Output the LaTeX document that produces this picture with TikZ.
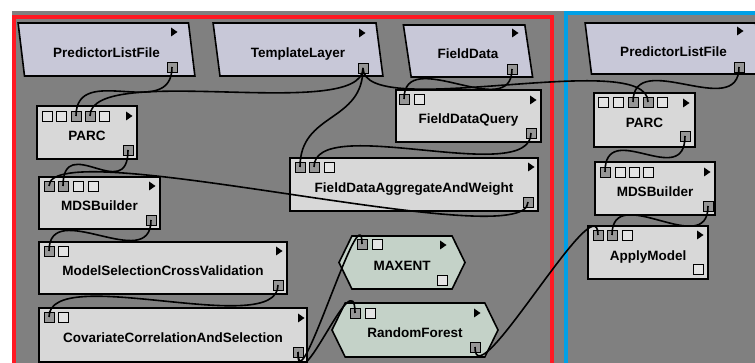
\documentclass[tikz,border=0pt]{standalone}
\usepackage{fontspec}
\setmainfont{Liberation Sans}
\usetikzlibrary{shapes.geometric,shapes.symbols}

\definecolor{canvas}{RGB}{128,128,128}
\definecolor{modgray}{RGB}{216,216,216}
\definecolor{filelav}{RGB}{200,200,216}
\definecolor{learngreen}{RGB}{196,210,200}
\definecolor{portgray}{RGB}{150,150,150}
\definecolor{portwhite}{RGB}{228,228,228}
\definecolor{grpred}{RGB}{255,25,35}
\definecolor{grpblue}{RGB}{0,160,230}

\begin{document}
\begin{tikzpicture}[x=1pt,y=-1pt,
    module/.style={draw=black,line width=1.6pt,fill=modgray,inner sep=0pt,font=\fontsize{13.5}{16}\selectfont\bfseries,text height=15.5pt,text depth=0pt,minimum height=53pt},
    datafile/.style={module,trapezium,trapezium left angle=105,trapezium right angle=75,trapezium stretches=true,fill=filelav,minimum width=177pt},
    learner/.style={module,signal,signal to=east and west,signal pointer angle=128,fill=learngreen},
    port/.style={draw=black,line width=0.8pt,fill=portwhite,minimum size=10pt,inner sep=0pt},
    used/.style={port,fill=portgray},
    every edge/.style={draw=black,line width=1.6pt,to path={.. controls +(0,55) and +(0,-55) .. (\tikztotarget)}}]
                \useasboundingbox (0,0) rectangle (755,363);
                \fill[canvas] (12,11) rectangle (755,363);
                % the two groups
                \draw[grpred,line width=4pt] (14,17) rectangle (552,390);
                \draw[grpblue,line width=4pt] (566,13) rectangle (790,390);

                % left group modules
                \node[datafile](plfL)at(106.5,49.5){PredictorListFile};
                \node[datafile,minimum width=170pt](tmpl)at(298,49.5){TemplateLayer};
                \node[datafile,minimum width=130pt,minimum height=52pt](fdat)at(468,51){FieldData};
                \node[module,minimum width=145pt,minimum height=52pt](fdq)at(468.5,116){FieldDataQuery};
                \node[module,minimum width=100pt](parcL)at(87,132.5){PARC};
                \node[module,minimum width=121pt,minimum height=52pt](mdsL)at(99.5,203){MDSBuilder};
                \node[module,minimum width=248pt,minimum height=52pt](mscv)at(163,268){ModelSelectionCrossValidation};
                \node[module,minimum width=268pt,minimum height=54pt](ccas)at(173,335){CovariateCorrelationAndSelection};
                \node[module,minimum width=248pt](fdaw)at(414,184.5){FieldDataAggregateAndWeight};
                \node[learner,minimum width=126pt](maxent)at(402,262.5){MAXENT};
                \node[learner,minimum width=166pt,minimum height=54pt](rf)at(415,330){RandomForest};

                % right group modules
                \node[datafile,minimum height=51pt](plfR)at(673.5,48.5){PredictorListFile};
                \node[module,minimum width=101pt,minimum height=54pt](parcR)at(644.5,120){PARC};
                \node[module,minimum width=120pt](mdsR)at(655,188.5){MDSBuilder};
                \node[module,minimum width=120pt](apply)at(648,252.5){ApplyModel};

                % ports
                \node[used](plfL-o)at(172,67){};
                \node[used](tmpl-o)at(363,68){};
                \node[used](fdat-o)at(512,69){};
                \node[used](fdq-i1)at(404,99){};
                \node[port](fdq-i2)at(419,99){};
                \node[used](fdq-o)at(531,133){};
                \node[port](parcL-i1)at(47,116){};
                \node[port](parcL-i2)at(61,116){};
                \node[used](parcL-i3)at(76,116){};
                \node[used](parcL-i4)at(90,116){};
                \node[port](parcL-i5)at(104,116){};
                \node[used](parcL-o)at(128,150){};
                \node[used](mdsL-i1)at(49,186){};
                \node[used](mdsL-i2)at(63,186){};
                \node[port](mdsL-i3)at(78,186){};
                \node[port](mdsL-i4)at(93,186){};
                \node[used](mdsL-o)at(151,220){};
                \node[used](mscv-i1)at(49,251){};
                \node[port](mscv-i2)at(63,251){};
                \node[used](mscv-o)at(278,285){};
                \node[used](ccas-i1)at(49,317){};
                \node[port](ccas-i2)at(63,317){};
                \node[used](ccas-o)at(298,352){};
                \node[used](fdaw-i1)at(300,167){};
                \node[used](fdaw-i2)at(314,167){};
                \node[port](fdaw-i3)at(329,167){};
                \node[used](fdaw-o)at(528,202){};
                \node[used](maxent-i1)at(362,244){};
                \node[port](maxent-i2)at(377,244){};
                \node[port](maxent-o)at(442,280){};
                \node[used](rf-i1)at(355,313){};
                \node[port](rf-i2)at(370,313){};
                \node[used](rf-o)at(475,347){};
                \node[used](plfR-o)at(739,67){};
                \node[port](parcR-i1)at(603,102){};
                \node[port](parcR-i2)at(618,102){};
                \node[used](parcR-i3)at(633,102){};
                \node[used](parcR-i4)at(648,102){};
                \node[port](parcR-i5)at(662,102){};
                \node[used](parcR-o)at(685,136){};
                \node[used](mdsR-i1)at(605,172){};
                \node[port](mdsR-i2)at(620,172){};
                \node[port](mdsR-i3)at(634,172){};
                \node[port](mdsR-i4)at(648,172){};
                \node[used](mdsR-o)at(708,206){};
                \node[used](apply-i1)at(598,235){};
                \node[used](apply-i2)at(612,235){};
                \node[port](apply-i3)at(627,235){};
                \node[port](apply-o)at(698,269){};

                % run markers
                \fill (174,32) +(-3,-4.5) -- +(3.5,0) -- +(-3,4.5) -- cycle;
                \fill (362,33) +(-3,-4.5) -- +(3.5,0) -- +(-3,4.5) -- cycle;
                \fill (515,33) +(-3,-4.5) -- +(3.5,0) -- +(-3,4.5) -- cycle;
                \fill (533,100) +(-3,-4.5) -- +(3.5,0) -- +(-3,4.5) -- cycle;
                \fill (129,116) +(-3,-4.5) -- +(3.5,0) -- +(-3,4.5) -- cycle;
                \fill (152,186) +(-3,-4.5) -- +(3.5,0) -- +(-3,4.5) -- cycle;
                \fill (279,251) +(-3,-4.5) -- +(3.5,0) -- +(-3,4.5) -- cycle;
                \fill (301,318) +(-3,-4.5) -- +(3.5,0) -- +(-3,4.5) -- cycle;
                \fill (531,167) +(-3,-4.5) -- +(3.5,0) -- +(-3,4.5) -- cycle;
                \fill (443,245) +(-3,-4.5) -- +(3.5,0) -- +(-3,4.5) -- cycle;
                \fill (477,313) +(-3,-4.5) -- +(3.5,0) -- +(-3,4.5) -- cycle;
                \fill (740,31) +(-3,-4.5) -- +(3.5,0) -- +(-3,4.5) -- cycle;
                \fill (686,103) +(-3,-4.5) -- +(3.5,0) -- +(-3,4.5) -- cycle;
                \fill (707,172) +(-3,-4.5) -- +(3.5,0) -- +(-3,4.5) -- cycle;
                \fill (700,235) +(-3,-4.5) -- +(3.5,0) -- +(-3,4.5) -- cycle;

                % connections
                \path[](plfL-o.center) edge (parcL-i3.center)
                (tmpl-o.center) edge (parcL-i4.center)
                (tmpl-o.center) edge (fdaw-i1.center)
                (tmpl-o.center) edge (parcR-i4.center)
                (fdat-o.center) edge (fdq-i1.center)
                (fdq-o.center) edge (fdaw-i2.center)
                (fdaw-o.center) edge (mdsL-i1.center)
                (parcL-o.center) edge (mdsL-i2.center)
                (mdsL-o.center) edge (mscv-i1.center)
                (mscv-o.center) edge (ccas-i1.center)
                (ccas-o.center) edge (maxent-i1.center)
                (ccas-o.center) edge (rf-i1.center)
                (rf-o.center) edge (apply-i1.center);
                \path[]
                (plfR-o.center) edge (parcR-i3.center)
                (parcR-o.center) edge (mdsR-i1.center)
                (mdsR-o.center) edge (apply-i2.center);
            \end{tikzpicture}
\end{document}
